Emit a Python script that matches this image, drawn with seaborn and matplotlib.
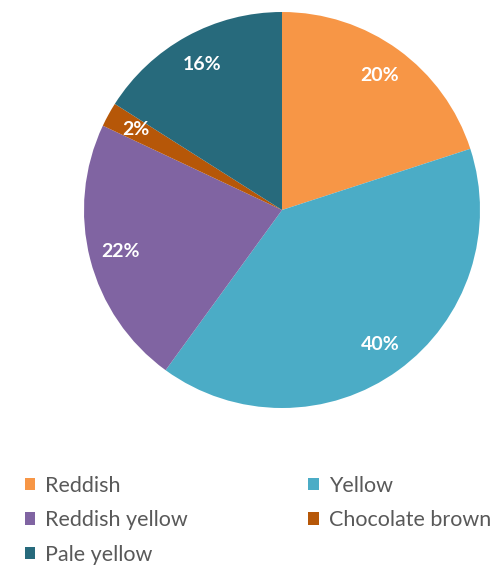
import matplotlib
matplotlib.use("Agg")
import matplotlib.pyplot as plt
import seaborn as sns
from matplotlib.patches import Patch

# Colour categories and their shares (%)
categories = ["Reddish", "Yellow", "Reddish yellow", "Chocolate brown", "Pale yellow"]
shares = [20, 40, 22, 2, 16]
colors = ["#F79646", "#4BACC6", "#8064A2", "#B65708", "#276A7C"]

sns.set_theme(style="white")
plt.rcParams["font.family"] = ["Lato", "DejaVu Sans"]

palette = sns.color_palette(colors)

fig = plt.figure(figsize=(4.99, 5.67), dpi=100)
W, H = 499, 567
cx, cy, r = 282, 210, 198
ax = fig.add_axes([(cx - r) / W, (H - cy - r) / H, 2 * r / W, 2 * r / H])

wedges, texts, autotexts = ax.pie(
    shares, colors=palette, startangle=90, counterclock=False,
    autopct=lambda p: f"{p:.0f}%", pctdistance=0.84, radius=1,
    wedgeprops=dict(linewidth=0),
    textprops=dict(color="white", fontsize=14, fontweight="bold"))
ax.set_xlim(-1, 1)
ax.set_ylim(-1, 1)
ax.set_aspect("equal")
ax.axis("off")

# legend in Excel row order (column-major fill in matplotlib)
order = [0, 2, 4, 1, 3]
handles = [Patch(facecolor=palette[i], edgecolor="none") for i in order]
labels = [categories[i] for i in order]
fig.legend(handles, labels, ncol=2, loc="upper left",
           bbox_to_anchor=(16 / W, 1 - 467 / H), frameon=False,
           fontsize=15.5, labelcolor="#595959",
           handlelength=0.5, handleheight=0.5, handletextpad=0.45,
           columnspacing=5.6, labelspacing=0.68, borderaxespad=0)

fig.savefig("out.png", dpi=100, facecolor="white")
